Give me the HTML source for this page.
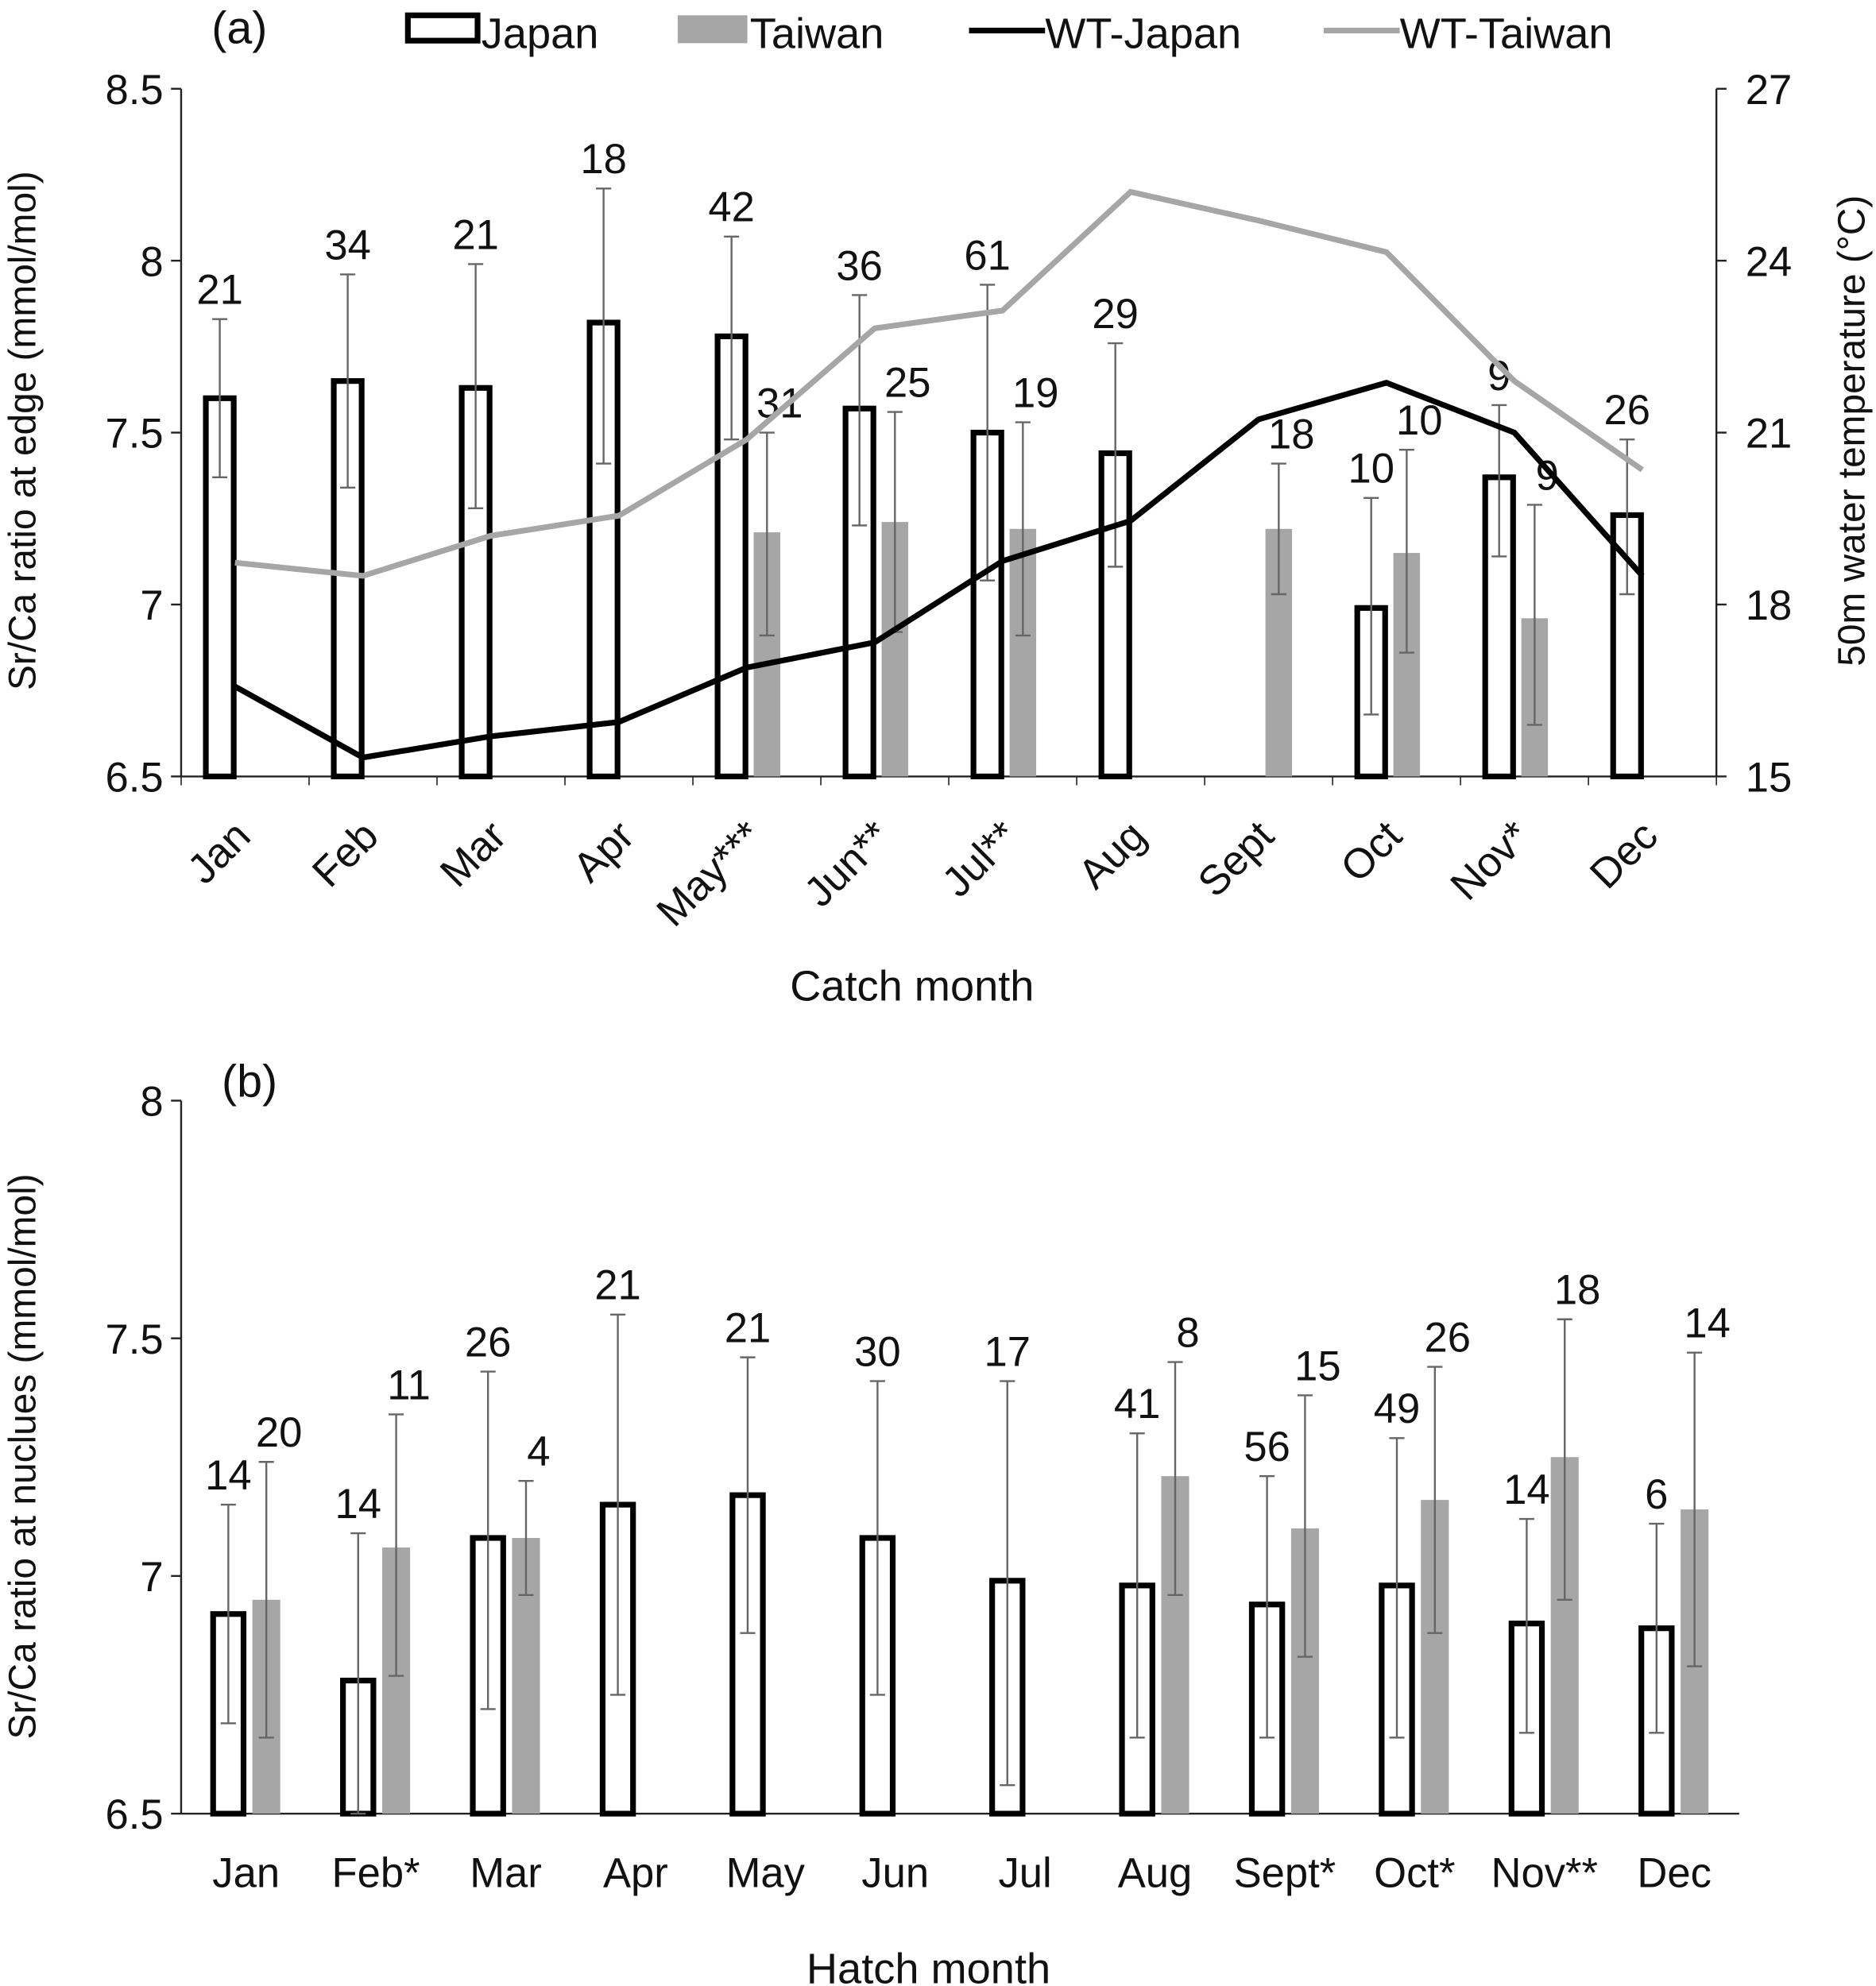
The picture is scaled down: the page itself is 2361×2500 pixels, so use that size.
<!DOCTYPE html>
<html><head><meta charset="utf-8"><style>body{margin:0;background:#fff}svg{display:block}text{font-family:"Liberation Sans",Arial,sans-serif;fill:#111}</style></head>
<body>
<svg id="c" xmlns="http://www.w3.org/2000/svg" width="2361" height="2500" viewBox="0 0 1481 1568"></svg>
<script>
const monthsA=["Jan","Feb","Mar","Apr","May***","Jun**","Jul**","Aug","Sept","Oct","Nov*","Dec"];
const japanA=[7.6,7.65,7.63,7.82,7.78,7.57,7.5,7.44,null,6.99,7.37,7.26];
const japanAHi=[7.83,7.96,7.99,8.21,8.07,7.9,7.93,7.76,null,7.31,7.58,7.48];
const japanALo=[7.37,7.34,7.28,7.41,7.48,7.23,7.07,7.11,null,6.68,7.14,7.03];
const japanAN=["21","34","21","18","42","36","61","29","","10","9","26"];
const taiwanA=[null,null,null,null,7.21,7.24,7.22,null,7.22,7.15,6.96,null];
const taiwanAHi=[null,null,null,null,7.5,7.56,7.53,null,7.41,7.45,7.29,null];
const taiwanALo=[null,null,null,null,6.91,6.92,6.91,null,7.03,6.86,6.65,null];
const taiwanAN=["","","","","31","25","19","","18","10","9",""];
const wtJapan=[16.57,15.33,15.7,15.95,16.9,17.34,18.76,19.46,21.23,21.87,21.0,18.5];
const wtTaiwan=[18.73,18.5,19.2,19.55,20.88,22.82,23.13,25.2,24.7,24.15,21.9,20.35];
const monthsB=["Jan","Feb*","Mar","Apr","May","Jun","Jul","Aug","Sept*","Oct*","Nov**","Dec"];
const japanB=[6.92,6.78,7.08,7.15,7.17,7.08,6.99,6.98,6.94,6.98,6.9,6.89];
const japanBHi=[7.15,7.09,7.43,7.55,7.46,7.41,7.41,7.30,7.21,7.29,7.12,7.11];
const japanBLo=[6.69,6.5,6.72,6.75,6.88,6.75,6.56,6.66,6.66,6.66,6.67,6.67];
const japanBN=["14","14","26","21","21","30","17","41","56","49","14","6"];
const taiwanB=[6.95,7.06,7.08,null,null,null,null,7.21,7.10,7.16,7.25,7.14];
const taiwanBHi=[7.24,7.34,7.2,null,null,null,null,7.45,7.38,7.44,7.54,7.47];
const taiwanBLo=[6.66,6.79,6.96,null,null,null,null,6.96,6.83,6.88,6.95,6.81];
const taiwanBN=["20","11","4","","","","","8","15","26","18","14"];
const ticksA=[6.5,7,7.5,8,8.5], ticksT=[15,18,21,24,27], ticksB=[6.5,7,7.5,8];

const S=document.getElementById('c');const NS="http://www.w3.org/2000/svg";
function el(t,a,txt){const e=document.createElementNS(NS,t);for(const k in a)e.setAttribute(k,a[k]);if(txt!==undefined)e.textContent=txt;S.appendChild(e);return e;}
const yA=v=>613-(v-6.5)/2*543, yT=v=>613-(v-15)/12*543, xA=i=>143+(i+0.5)*101;
const yB=v=>1432-(v-6.5)/1.5*563, xB=i=>143+(i+0.5)*102.5;
function axes(x0,x1,yTop,yBot,ticks,yf,fmt){
 let a=el('line',{x1:x0,y1:yTop,x2:x0,y2:yBot,stroke:'#222','stroke-width':1.5});
 let b=el('line',{x1:x0,y1:yBot,x2:x1,y2:yBot,stroke:'#222','stroke-width':1.5});
 ticks.forEach(t=>{el('line',{x1:x0-8,y1:yf(t),x2:x0,y2:yf(t),stroke:'#222','stroke-width':1.5});
 const tx=el('text',{x:x0-14,y:yf(t)+12,'text-anchor':'end','font-size':33},fmt(t));});
}
axes(143,1355,70,613,ticksA,yA,t=>String(t));
axes(143,1373,869,1432,ticksB,yB,t=>String(t));
el('line',{x1:1355,y1:70,x2:1355,y2:613,stroke:'#222','stroke-width':1.5});
ticksT.forEach(t=>{el('line',{x1:1355,y1:yT(t),x2:1363,y2:yT(t),stroke:'#222','stroke-width':1.5});
 const tx=el('text',{x:1378,y:yT(t)+12,'font-size':33},String(t));});
for(let i=0;i<=12;i++){el('line',{x1:143+i*101,y1:613,x2:143+i*101,y2:620,stroke:'#222'});}
function bars(vals,hi,lo,ns,xf,yf,base,off,w,japan,nameP,lblDy){
 vals.forEach((v,i)=>{if(v===null)return;const cx=xf(i)+off;
  let r;
  if(japan){r=el('rect',{x:cx-w/2,y:yf(v),width:w,height:yf(base)-yf(v),fill:'#fff',stroke:'#000','stroke-width':4.5});}
  else{r=el('rect',{x:cx-w/2,y:yf(v),width:w,height:yf(base)-yf(v),fill:'#a6a6a6'});}
  
  el('line',{x1:cx,y1:yf(hi[i]),x2:cx,y2:yf(lo[i]),stroke:'#666','stroke-width':1.5});
  el('line',{x1:cx-6,y1:yf(hi[i]),x2:cx+6,y2:yf(hi[i]),stroke:'#666','stroke-width':1.5});
  el('line',{x1:cx-6,y1:yf(lo[i]),x2:cx+6,y2:yf(lo[i]),stroke:'#666','stroke-width':1.5});
  if(ns[i]){const t=el('text',{x:cx+(japan?0:10),y:yf(hi[i])-lblDy,'text-anchor':'middle','font-size':33},ns[i]);}
 });
}
bars(japanA,japanAHi,japanALo,japanAN,xA,yA,6.5,-20,22,true,'japan-a',12);
bars(taiwanA,taiwanAHi,taiwanALo,taiwanAN,xA,yA,6.5,8,21,false,'taiwan-a',12);
bars(japanB,japanBHi,japanBLo,japanBN,xB,yB,6.5,-14,24,true,'japan-b',12);
bars(taiwanB,taiwanBHi,taiwanBLo,taiwanBN,xB,yB,6.5,16,22,false,'taiwan-b',12);
function line(vals,col,name){const p=el('polyline',{points:vals.map((v,i)=>(xA(i)-8)+','+yT(v)).join(' '),fill:'none',stroke:col,'stroke-width':4.5});
 }
line(wtTaiwan,'#a6a6a6','wt-taiwan-line');line(wtJapan,'#000','wt-japan-line');
monthsA.forEach((m,i)=>{const x=xA(i)+6,y=662;const t=el('text',{x:x,y:y,'text-anchor':'end','font-size':33,transform:`rotate(-45 ${x} ${y})`},m);});
monthsB.forEach((m,i)=>{const t=el('text',{x:xB(i),y:1490,'text-anchor':'middle','font-size':33},m);});
let t;
t=el('text',{x:720,y:790,'text-anchor':'middle','font-size':34},'Catch month');
t=el('text',{x:733,y:1566,'text-anchor':'middle','font-size':34},'Hatch month');
t=el('text',{x:0,y:0,'text-anchor':'middle','font-size':30,transform:'translate(28 340) rotate(-90)'},'Sr/Ca ratio at edge (mmol/mol)');
t=el('text',{x:0,y:0,'text-anchor':'middle','font-size':30,transform:'translate(28 1150) rotate(-90)'},'Sr/Ca ratio at nuclues (mmol/mol)');
t=el('text',{x:0,y:0,'text-anchor':'middle','font-size':30,transform:'translate(1472 340) rotate(-90)'},'50m water temperature (°C)');
t=el('text',{x:167,y:34,'font-size':36},'(a)');
t=el('text',{x:175,y:866,'font-size':36},'(b)');
el('rect',{x:322,y:12,width:55,height:20,fill:'#fff',stroke:'#000','stroke-width':4.5});
t=el('text',{x:380,y:38,'font-size':34},'Japan');
el('rect',{x:535,y:12,width:55,height:22,fill:'#a6a6a6'});
t=el('text',{x:592,y:38,'font-size':34},'Taiwan');
el('line',{x1:765,y1:24,x2:825,y2:24,stroke:'#000','stroke-width':4.5});
t=el('text',{x:825,y:38,'font-size':34},'WT-Japan');
el('line',{x1:1045,y1:24,x2:1105,y2:24,stroke:'#a6a6a6','stroke-width':4.5});
t=el('text',{x:1105,y:38,'font-size':34},'WT-Taiwan');
</script>
</body></html>
